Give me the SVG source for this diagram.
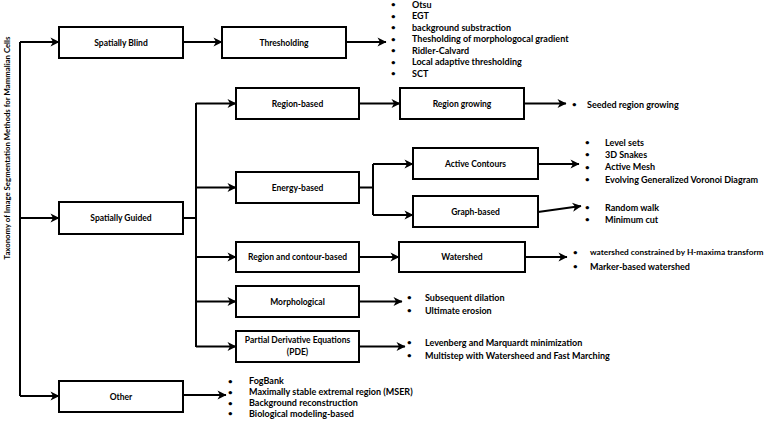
<svg xmlns="http://www.w3.org/2000/svg" width="778" height="421" viewBox="0 0 778 421">
<style>
.box{fill:#fff;stroke:#000;stroke-width:2}
.lbl{font-family:Lato,"Liberation Sans",sans-serif;font-weight:bold;font-size:8.5px;fill:#000;text-anchor:middle;dominant-baseline:central}
.it{font-family:Lato,"Liberation Sans",sans-serif;font-weight:bold;font-size:9px;fill:#000;dominant-baseline:central}
.bul{font-family:Lato,"Liberation Sans",sans-serif;font-weight:bold;font-size:8px;fill:#000;dominant-baseline:central}
.c{fill:none;stroke:#000;stroke-width:2}
.a{marker-end:url(#ah)}
</style>
<defs>
<marker id="ah" markerUnits="userSpaceOnUse" markerWidth="10" markerHeight="10" viewBox="0 0 10 10" refX="9" refY="5" orient="auto">
<path d="M0.5,0.5 L9.5,5 L0.5,9.5 L3,5 z" fill="#000"/>
</marker>
</defs>
<rect width="778" height="421" fill="#fff"/>
<text class="lbl" transform="translate(7,148) rotate(-90)" style="font-size:7.8px">Taxonomy of Image Segmentation Methods for Mammalian Cells</text>

<g id="connectors">
<path class="c" d="M20,42 V396"/>
<path class="c a" d="M20,42 H59"/>
<path class="c a" d="M20,218 H59"/>
<path class="c a" d="M20,396 H59"/>
<path class="c a" d="M183,42 H222"/>
<path class="c a" d="M346,42 H386"/>
<path class="c" d="M183,218 H196 M196,103 V347"/>
<path class="c a" d="M196,103.5 H236"/>
<path class="c a" d="M196,187.5 H236"/>
<path class="c a" d="M196,257 H236"/>
<path class="c a" d="M196,301.5 H236"/>
<path class="c a" d="M196,346.5 H236"/>
<path class="c a" d="M359,103.5 H400"/>
<path class="c a" d="M524,103.5 H566"/>
<path class="c" d="M359,187.5 H373 M373,164 V215"/>
<path class="c a" d="M373,164 H413"/>
<path class="c a" d="M373,215 H413"/>
<path class="c a" d="M538,164 H579"/>
<path class="c a" d="M538,212 L581,206"/>
<path class="c a" d="M359,257 H399"/>
<path class="c a" d="M525,257 H567"/>
<path class="c a" d="M359,301.5 H402"/>
<path class="c a" d="M359,346.5 H405"/>
<path class="c a" d="M183,395 H226"/>
</g>

<g id="spatially-blind"><rect class="box" x="59" y="27" width="124" height="31"/><text class="lbl" x="121" y="42.5">Spatially Blind</text></g>
<g id="thresholding"><rect class="box" x="222" y="27" width="124" height="31"/><text class="lbl" x="284" y="42.5">Thresholding</text></g>
<g id="thresholding-list">
<text class="bul" x="391" y="4">•</text><text class="it" x="412" y="4">Otsu</text>
<text class="bul" x="391" y="15.5">•</text><text class="it" x="412" y="15.5">EGT</text>
<text class="bul" x="391" y="27">•</text><text class="it" x="412" y="27">background substraction</text>
<text class="bul" x="391" y="38.5">•</text><text class="it" x="412" y="38.5">Thesholding of morphologocal gradient</text>
<text class="bul" x="391" y="50">•</text><text class="it" x="412" y="50">Ridler-Calvard</text>
<text class="bul" x="391" y="61.5">•</text><text class="it" x="412" y="61.5">Local adaptive thresholding</text>
<text class="bul" x="391" y="73">•</text><text class="it" x="412" y="73">SCT</text>
</g>
<g id="spatially-guided"><rect class="box" x="59" y="202" width="124" height="32"/><text class="lbl" x="121" y="218">Spatially Guided</text></g>
<g id="other"><rect class="box" x="59" y="381" width="124" height="31"/><text class="lbl" x="121" y="396.5">Other</text></g>
<g id="other-list">
<text class="bul" x="228" y="380.5">•</text><text class="it" x="249" y="380.5">FogBank</text>
<text class="bul" x="228" y="391.5">•</text><text class="it" x="249" y="391.5">Maximally stable extremal region (MSER)</text>
<text class="bul" x="228" y="402.5">•</text><text class="it" x="249" y="402.5">Background reconstruction</text>
<text class="bul" x="228" y="413">•</text><text class="it" x="249" y="413">Biological modeling-based</text>
</g>
<g id="region-based"><rect class="box" x="236" y="88" width="123" height="31"/><text class="lbl" x="297.5" y="103.5">Region-based</text></g>
<g id="region-growing"><rect class="box" x="400" y="88" width="124" height="31"/><text class="lbl" x="462" y="103.5">Region growing</text></g>
<g id="region-growing-list"><text class="bul" x="572" y="104">•</text><text class="it" x="587" y="104">Seeded region growing</text></g>
<g id="energy-based"><rect class="box" x="236" y="172" width="123" height="31"/><text class="lbl" x="297.5" y="187.5">Energy-based</text></g>
<g id="active-contours"><rect class="box" x="413" y="148" width="125" height="31"/><text class="lbl" x="475.5" y="163.5">Active Contours</text></g>
<g id="active-contours-list">
<text class="bul" x="585" y="142">•</text><text class="it" x="605" y="142">Level sets</text>
<text class="bul" x="585" y="154">•</text><text class="it" x="605" y="154">3D Snakes</text>
<text class="bul" x="585" y="166.5">•</text><text class="it" x="605" y="166.5">Active Mesh</text>
<text class="bul" x="585" y="179">•</text><text class="it" x="605" y="179">Evolving Generalized Voronoi Diagram</text>
</g>
<g id="graph-based"><rect class="box" x="413" y="196" width="125" height="31"/><text class="lbl" x="475.5" y="211.5">Graph-based</text></g>
<g id="graph-based-list">
<text class="bul" x="585" y="207">•</text><text class="it" x="605" y="207">Random walk</text>
<text class="bul" x="585" y="219">•</text><text class="it" x="605" y="219">Minimum cut</text>
</g>
<g id="region-contour-based"><rect class="box" x="236" y="242" width="123" height="30"/><text class="lbl" x="297.5" y="257">Region and contour-based</text></g>
<g id="watershed"><rect class="box" x="399" y="242" width="126" height="30"/><text class="lbl" x="462" y="257">Watershed</text></g>
<g id="watershed-list">
<text class="bul" x="573" y="252">•</text><text class="it" x="590" y="252" style="font-size:8.3px">watershed constrained by H-maxima transform</text>
<text class="bul" x="573" y="266">•</text><text class="it" x="590" y="266">Marker-based watershed</text>
</g>
<g id="morphological"><rect class="box" x="236" y="286" width="123" height="31"/><text class="lbl" x="297.5" y="301.5">Morphological</text></g>
<g id="morphological-list">
<text class="bul" x="407" y="297">•</text><text class="it" x="425" y="297">Subsequent dilation</text>
<text class="bul" x="407" y="310">•</text><text class="it" x="425" y="310">Ultimate erosion</text>
</g>
<g id="pde"><rect class="box" x="236" y="331" width="123" height="31"/><text class="lbl" x="297.5" y="340">Partial Derivative Equations</text><text class="lbl" x="297.5" y="352">(PDE)</text></g>
<g id="pde-list">
<text class="bul" x="407" y="342">•</text><text class="it" x="425" y="342">Levenberg and Marquardt minimization</text>
<text class="bul" x="407" y="355">•</text><text class="it" x="425" y="355">Multistep with Watersheed and Fast Marching</text>
</g>
</svg>
